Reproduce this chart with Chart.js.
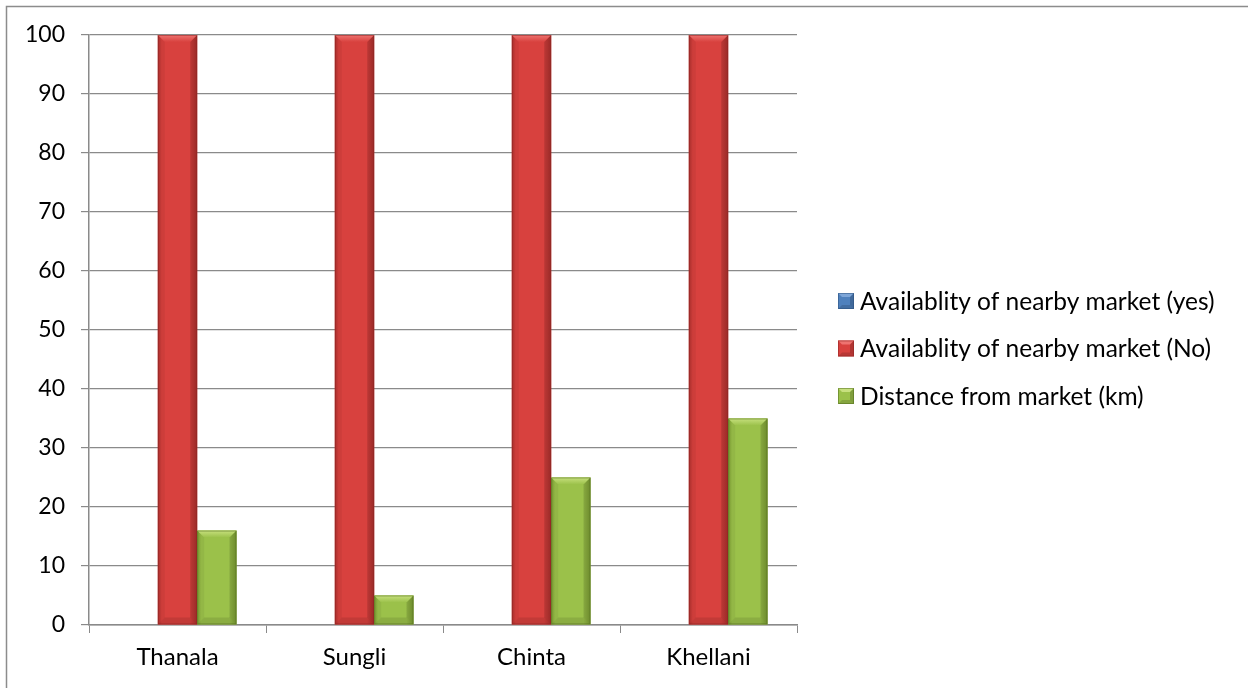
<!DOCTYPE html>
<html>
<head>
<meta charset="utf-8">
<script src="https://cdn.jsdelivr.net/npm/chart.js@4"></script>
<style>
  html, body { margin: 0; padding: 0; background: #ffffff; }
  #wrap { position: relative; width: 1248px; height: 688px; }
  canvas { display: block; }
</style>
</head>
<body>
<div id="wrap"><canvas id="c" width="1248" height="688"></canvas></div>
<script>
// Villages surveyed
const villages = ['Thanala', 'Sungli', 'Chinta', 'Khellani'];

// Series values (percent of households / km)
const marketYes = [0, 0, 0, 0];
const marketNo = [100, 100, 100, 100];
const distanceKm = [16, 5, 25, 35];

// Series names
const seriesNames = [
  'Availablity of nearby market (yes)',
  'Availablity of nearby market (No)',
  'Distance from market (km)'
];

// Value axis ticks
const yTicks = [0, 10, 20, 30, 40, 50, 60, 70, 80, 90, 100];

const FONT = "'Lato', 'Liberation Sans', sans-serif";
const GRID = '#8a8a8a';

// Face / light / dark shades for each series
const palette = [
  { face: '#4f81bd', light: '#7ea6d8', dark: '#2c5282', edge: '#2a4d7a' },
  { face: '#d8413e', light: '#ee7370', dark: '#b0302d', edge: '#8c2422' },
  { face: '#9bc14a', light: '#c7e07e', dark: '#7d9f33', edge: '#4f6a1c' }
];

function bevelPath(ctx, pts) {
  ctx.beginPath();
  ctx.moveTo(pts[0][0], pts[0][1]);
  for (let i = 1; i < pts.length; i++) ctx.lineTo(pts[i][0], pts[i][1]);
  ctx.closePath();
}

// Draws a soft bevel over each column
const bevelBars = {
  id: 'bevelBars',
  afterDatasetsDraw(chart) {
    const ctx = chart.ctx;
    chart.data.datasets.forEach((ds, di) => {
      const meta = chart.getDatasetMeta(di);
      if (meta.hidden) return;
      const col = palette[di];
      meta.data.forEach((bar) => {
        const p = bar.getProps(['x', 'y', 'base', 'width'], true);
        const L = p.x - p.width / 2, R = p.x + p.width / 2;
        const T = Math.min(p.y, p.base), B = Math.max(p.y, p.base);
        const h = B - T;
        if (h < 1) return;
        const d = Math.min(7, h / 2, p.width / 2);
        ctx.save();
        // face shading across the width
        const g = ctx.createLinearGradient(L, 0, R, 0);
        g.addColorStop(0, col.dark);
        g.addColorStop(0.1, col.face);
        g.addColorStop(0.82, col.face);
        g.addColorStop(1, col.dark);
        ctx.fillStyle = g;
        ctx.fillRect(L, T, R - L, h);
        // top bevel
        const gt = ctx.createLinearGradient(0, T, 0, T + d);
        gt.addColorStop(0, col.light);
        gt.addColorStop(1, col.face);
        ctx.fillStyle = gt;
        bevelPath(ctx, [[L, T], [R, T], [R - d, T + d], [L + d, T + d]]);
        ctx.fill();
        // left bevel
        ctx.fillStyle = 'rgba(0,0,0,0.05)';
        bevelPath(ctx, [[L, T], [L + d, T + d], [L + d, B - d], [L, B]]);
        ctx.fill();
        // right bevel
        ctx.fillStyle = 'rgba(0,0,0,0.12)';
        bevelPath(ctx, [[R, T], [R - d, T + d], [R - d, B - d], [R, B]]);
        ctx.fill();
        // bottom bevel
        ctx.fillStyle = 'rgba(0,0,0,0.1)';
        bevelPath(ctx, [[L, B], [L + d, B - d], [R - d, B - d], [R, B]]);
        ctx.fill();
        // thin outline
        ctx.strokeStyle = col.edge;
        ctx.globalAlpha = 0.5;
        ctx.lineWidth = 1;
        ctx.strokeRect(L + 0.5, T + 0.5, R - L - 1, h - 1);
        ctx.restore();
      });
    });
  }
};

// Legend drawn on the right with bevelled swatches
const sideLegend = {
  id: 'sideLegend',
  afterDraw(chart, args, opts) {
    const ctx = chart.ctx;
    ctx.save();
    ctx.font = opts.fontSize + 'px ' + FONT;
    ctx.textBaseline = 'middle';
    ctx.fillStyle = '#000';
    chart.data.datasets.forEach((ds, i) => {
      const cy = opts.top + i * opts.rowGap;
      const s = opts.box;
      const x = opts.left, y = cy - s / 2;
      const col = palette[i];
      ctx.fillStyle = col.face;
      ctx.fillRect(x, y, s, s);
      const d = 4;
      ctx.fillStyle = col.light;
      bevelPath(ctx, [[x, y], [x + s, y], [x + s - d, y + d], [x + d, y + d]]);
      ctx.fill();
      ctx.fillStyle = 'rgba(0,0,0,0.18)';
      bevelPath(ctx, [[x + s, y], [x + s - d, y + d], [x + s - d, y + s - d], [x + s, y + s]]);
      ctx.fill();
      ctx.fillStyle = 'rgba(0,0,0,0.14)';
      bevelPath(ctx, [[x, y + s], [x + d, y + s - d], [x + s - d, y + s - d], [x + s, y + s]]);
      ctx.fill();
      ctx.strokeStyle = col.edge;
      ctx.globalAlpha = 0.5;
      ctx.strokeRect(x + 0.5, y + 0.5, s - 1, s - 1);
      ctx.globalAlpha = 1;
      ctx.fillStyle = '#000';
      ctx.fillText(ds.label, x + s + opts.gap, cy + 1);
    });
    ctx.restore();
  }
};

// Outer frame (top and left edges)
const frame = {
  id: 'frame',
  beforeDraw(chart) {
    const ctx = chart.ctx;
    ctx.save();
    ctx.strokeStyle = '#8c8c8c';
    ctx.lineWidth = 1.5;
    ctx.beginPath();
    ctx.moveTo(6.5, 688);
    ctx.lineTo(6.5, 6.5);
    ctx.lineTo(1248, 6.5);
    ctx.stroke();
    ctx.restore();
  }
};

new Chart(document.getElementById('c'), {
  type: 'bar',
  data: {
    labels: villages,
    datasets: [
      { label: seriesNames[0], data: marketYes, backgroundColor: palette[0].face },
      { label: seriesNames[1], data: marketNo, backgroundColor: palette[1].face },
      { label: seriesNames[2], data: distanceKm, backgroundColor: palette[2].face }
    ]
  },
  options: {
    responsive: false,
    animation: false,
    devicePixelRatio: 1,
    layout: { padding: { top: 35, right: 451, bottom: 0, left: 0 } },
    datasets: { bar: { categoryPercentage: 3 / 4.5, barPercentage: 1, borderWidth: 0 } },
    plugins: {
      legend: { display: false },
      tooltip: { enabled: false },
      sideLegend: { left: 838, top: 301, rowGap: 47.5, box: 16, gap: 6, fontSize: 24.5 }
    },
    scales: {
      x: {
        offset: true,
        afterFit(s) { s.height = 63; },
        grid: { display: true, drawOnChartArea: false, drawTicks: true, tickLength: 8, offset: true, color: GRID, lineWidth: 1 },
        border: { display: true, color: GRID, width: 1.5 },
        ticks: { color: '#000', padding: 10, font: { family: FONT, size: 24 } }
      },
      y: {
        min: 0,
        max: 100,
        afterFit(s) { s.width = 89; },
        afterBuildTicks(s) { s.ticks = yTicks.map(v => ({ value: v })); },
        grid: { color: GRID, lineWidth: 1.2, tickLength: 8 },
        border: { display: true, color: GRID, width: 1.5 },
        ticks: { color: '#000', padding: 16, font: { family: FONT, size: 23 } }
      }
    }
  },
  plugins: [frame, bevelBars, sideLegend]
});
</script>
</body>
</html>
